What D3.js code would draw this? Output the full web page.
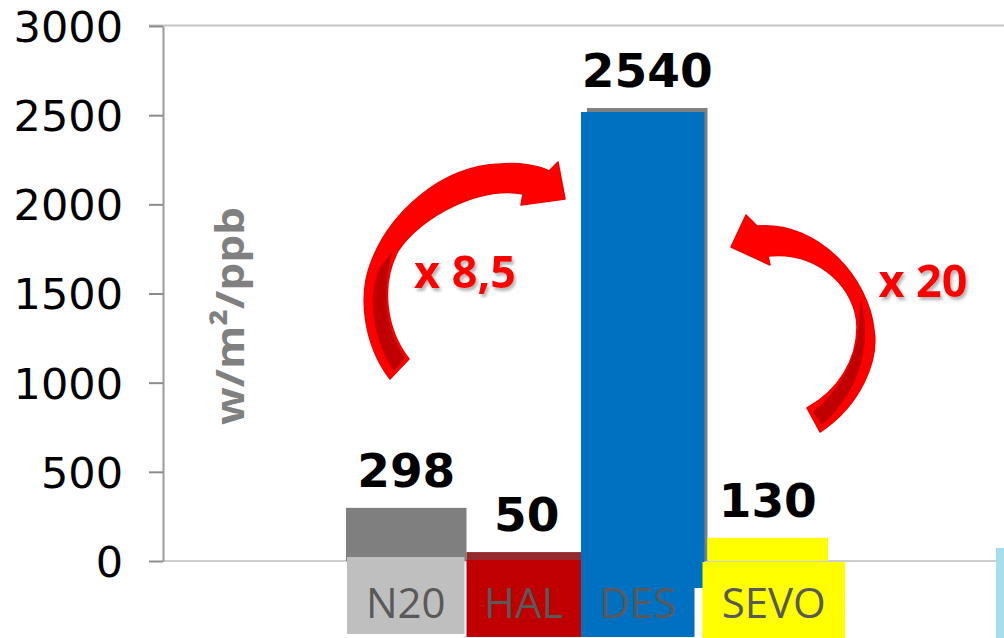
<!DOCTYPE html>
<html><head><meta charset="utf-8">
<script src="https://cdn.jsdelivr.net/npm/d3@7"></script>
<style>body{margin:0;background:#fff;} svg{display:block;}</style>
</head><body><svg id="chart" width="1004" height="638"></svg>
<script>
// ---- data ----
const categories = ["N20", "HAL", "DES", "SEVO"];
const values = [298, 50, 2540, 130];
const valueLabels = ["298", "50", "2540", "130"];
const yTicks = [0, 500, 1000, 1500, 2000, 2500, 3000];
const yTitle = "w/m²/ppb";
const ratioLabels = ["x 8,5", "x 20"];

// ---- styles / layout ----
const barColors = ["#7f7f7f", "#952a2e", "#7f7f7f", "#ffff00"];
const tileColors = ["#bfbfbf", "#c00000", "#0070c0", "#ffff00"];
// tile offsets relative to band: [dx0, dx1 (from band end), top, bottom]
const tileGeom = [[1, -2, 557, 634], [0, -6, 560, 637], [-6, -13, 560, 637], [-5, 17, 562, 638]];

const svg = d3.select("#chart");
const y = d3.scaleLinear().domain([0, 3000]).range([561, 26]);
const x = d3.scaleBand().domain(categories).range([346, 828]).padding(0);
const bw = x.bandwidth();

const defs = svg.append("defs");
const f = defs.append("filter").attr("id", "shadow").attr("x", "-20%").attr("y", "-20%").attr("width", "150%").attr("height", "160%");
f.append("feDropShadow").attr("dx", 2).attr("dy", 3).attr("stdDeviation", 1.6).attr("flood-color", "#7a7a7a").attr("flood-opacity", 0.55);

// frame
svg.append("line").attr("x1", 149).attr("x2", 1004).attr("y1", y(3000) - 0.5).attr("y2", y(3000) - 0.5)
  .attr("stroke", "#c6c6c6").attr("stroke-width", 2);
svg.append("line").attr("x1", 163).attr("x2", 996).attr("y1", y(0)).attr("y2", y(0))
  .attr("stroke", "#bdbdbd").attr("stroke-width", 1.5);

// axis
const axis = svg.append("g").attr("transform", "translate(163,0)")
  .call(d3.axisLeft(y).tickValues(yTicks).tickSize(14).tickSizeOuter(0).tickPadding(26).tickFormat(d3.format("d")));
axis.select(".domain").attr("stroke", "#9a9a9a").attr("stroke-width", 2);
axis.selectAll(".tick line").attr("stroke", "#8c8c8c").attr("stroke-width", 2);
axis.selectAll(".tick text").attr("font-family", "DejaVu Sans, Verdana, sans-serif").attr("font-size", 43)
  .attr("fill", "#000").attr("dy", "0.36em");

// y title
svg.append("text").attr("transform", "translate(244,316) rotate(-90)").attr("text-anchor", "middle")
  .attr("font-family", "Open Sans, sans-serif").attr("font-weight", "bold").attr("font-size", 40)
  .attr("fill", "#808080").attr("textLength", 218).attr("lengthAdjust", "spacingAndGlyphs").text(yTitle);

// bars
svg.selectAll("rect.bar").data(categories).join("rect").attr("class", "bar")
  .attr("x", d => x(d)).attr("width", bw)
  .attr("y", (d, i) => y(values[i])).attr("height", (d, i) => y(0) - y(values[i]))
  .attr("fill", (d, i) => barColors[i]);

// DES blue overlay shape (upper part)
svg.append("rect").attr("x", x("DES") - 6).attr("width", bw + 3)
  .attr("y", y(values[2]) + 4).attr("height", 588 - (y(values[2]) + 4)).attr("fill", tileColors[2]);

// category tiles
svg.selectAll("rect.tile").data(categories).join("rect").attr("class", "tile")
  .attr("x", (d, i) => x(d) + tileGeom[i][0])
  .attr("width", (d, i) => bw + tileGeom[i][1] - tileGeom[i][0])
  .attr("y", (d, i) => tileGeom[i][2]).attr("height", (d, i) => tileGeom[i][3] - tileGeom[i][2])
  .attr("fill", (d, i) => tileColors[i]);

svg.selectAll("text.cat").data(categories).join("text").attr("class", "cat")
  .attr("x", (d, i) => x(d) + (tileGeom[i][0] + bw + tileGeom[i][1]) / 2).attr("y", 618)
  .attr("text-anchor", "middle").attr("font-family", "Open Sans, sans-serif").attr("font-size", 42)
  .attr("fill", "#595959").text(d => d);

// value labels
svg.selectAll("text.val").data(categories).join("text").attr("class", "val")
  .attr("x", d => x(d) + bw / 2).attr("y", (d, i) => y(values[i]) - 21)
  .attr("text-anchor", "middle").attr("font-family", "DejaVu Sans, Verdana, sans-serif").attr("font-weight", "bold")
  .attr("font-size", 47).attr("fill", "#000").text((d, i) => valueLabels[i]);

// curved arrows (annotation)
const arrows = svg.append("g");
arrows.append("path")
  .attr("d", "M390,379 C364,345 357,295 372,260 C390,214 440,166 500,164 C520,162 540,166 549,171 L558,162 L565,199 L521,205 L523,194 C480,186 421,216 398,251 C380,285 386,330 409,359 Z")
  .attr("fill", "#ff0000").attr("stroke", "#f00000").attr("stroke-width", 1.5).attr("stroke-linejoin", "round");
arrows.append("path")
  .attr("d", "M378,270 C368,302 373,340 394,371 L405,358 C386,330 381,297 392,252 Z")
  .attr("fill", "#c00000");
arrows.append("path")
  .attr("d", "M820,432 C861,405 879,360 874,330 C869,280 820,221 757,226 L746,215 L731,247 L770,265 L768,256 C820,251 857,290 857,327 C857,360 839,390 807,408 Z")
  .attr("fill", "#ff0000").attr("stroke", "#f00000").attr("stroke-width", 1.5).attr("stroke-linejoin", "round");
arrows.append("path")
  .attr("d", "M861,300 C870,335 867,385 822,425 L813,412 C846,385 859,350 859,318 Z")
  .attr("fill", "#c00000");

// ratio labels
const ratioPos = [[465, 288], [923, 297]];
svg.selectAll("text.ratio").data(ratioLabels).join("text").attr("class", "ratio")
  .attr("x", (d, i) => ratioPos[i][0]).attr("y", (d, i) => ratioPos[i][1])
  .attr("text-anchor", "middle").attr("font-family", "Open Sans, sans-serif").attr("font-weight", "bold")
  .attr("font-size", 45).attr("fill", "#ff0000").attr("filter", "url(#shadow)").text(d => d);

// small cyan corner piece
svg.append("rect").attr("x", 996).attr("y", 548).attr("width", 8).attr("height", 90).attr("fill", "#a6dfe9");
</script></body></html>
